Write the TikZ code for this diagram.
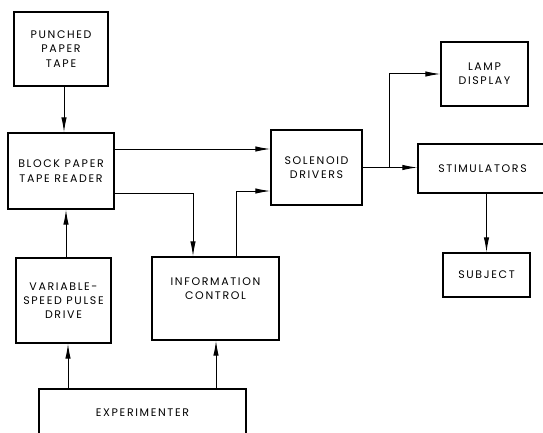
\documentclass[tikz,border=0pt]{standalone}
\usepackage{fontspec}
\setmainfont[LetterSpace=15]{Poppins}
\usetikzlibrary{arrows.meta}
\begin{document}
\begin{tikzpicture}[x=1pt,y=-1pt,
  box/.style={draw,line width=1.2pt,inner sep=0pt,align=center,
    font=\fontsize{11}{14.3}\selectfont},
  wire/.style={line width=1pt},
  arr/.style={wire,-{Latex[length=15pt,width=5.4pt]}}]
\useasboundingbox (0,0) rectangle (543,433);
\clip (0,0) rectangle (543,433);
% blocks (centre, width, height)
\node[box,minimum width=94pt,minimum height=74pt] (punch) at (61,49) {PUNCHED\\PAPER\\TAPE};
\node[box,minimum width=106pt,minimum height=76pt] (reader) at (61,171) {BLOCK PAPER\\TAPE READER};
\node[box,minimum width=91pt,minimum height=75pt] (sol) at (316.5,167.5) {SOLENOID\\DRIVERS};
\node[box,minimum width=87pt,minimum height=64pt] (lamp) at (484.5,74) {LAMP\\DISPLAY};
\node[box,minimum width=132pt,minimum height=49pt] (stim) at (484,168.5) {STIMULATORS\hspace*{3pt}};
\node[box,minimum width=87pt,minimum height=44pt] (subj) at (486.5,275) {SUBJECT};
\node[box,minimum width=95pt,minimum height=85pt] (var) at (63.5,300.5) {VARIABLE-\\SPEED PULSE\\DRIVE};
\node[box,minimum width=127pt,minimum height=83pt] (info) at (215.5,298.5) {INFORMATION\\CONTROL\\[6pt]};
\node[box,minimum width=207pt,minimum height=48pt] (exp) at (142.5,413) {EXPERIMENTER};
% connectors
\draw[arr] ([xshift=3pt]punch.south) coordinate (p1) -- (p1 |- reader.north);
\draw[arr] ([yshift=22pt]reader.east) coordinate (r1) -- (r1 -| sol.west);
\draw[arr] ([yshift=-22pt]reader.east) -| ([xshift=-22.5pt]info.north);
\draw[arr] ([xshift=20.5pt]info.north) |- ([yshift=-23.5pt]sol.west);
\draw[arr] (sol.east) -- (sol.east -| stim.west);
\draw[arr] ([xshift=27pt]sol.east) coordinate (br) |- (lamp.west);
\draw[arr] (subj.north |- stim.south) -- (subj.north);
\draw[arr] ([xshift=2.5pt]var.north) coordinate (v1) -- (v1 |- reader.south);
\draw[arr] ([xshift=-74.5pt]exp.north) coordinate (e1) -- (e1 |- var.south);
\draw[arr] ([xshift=73.5pt]exp.north) coordinate (e2) -- (e2 |- info.south);
\end{tikzpicture}
\end{document}
